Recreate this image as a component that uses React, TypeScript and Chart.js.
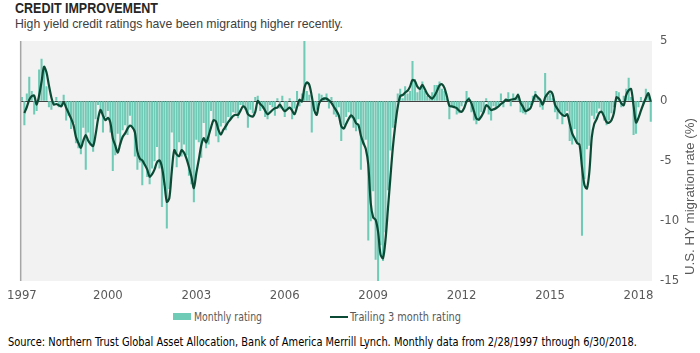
import React, { useEffect, useRef } from 'react';
import { Chart, registerables } from 'chart.js';

Chart.register(...registerables);

// ---- data ----
const START_YEAR = 1997;
const START_MONTH = 2; // Feb 1997
const TICK_YEARS = [1997, 2000, 2003, 2006, 2009, 2012, 2015, 2018];
const Y_MIN = -15;
const Y_MAX = 5;
const Y_STEP = 5;

const MONTHLY_RATING: number[] = [
  0.3, -2.0, 0.6, 2.0, 0.8, -1.1, -0.8, 2.6, 3.5, 2.6, 1.2,
  -0.5, -0.7, -0.3, 0.3, -0.5, -0.3, 0.5, -1.6, -1.2, -2.3, -1.8, -3.5,
  -3.9, -4.4, -2.2, -5.7, -2.6, -3.7, -4.2, -1.5, -0.3, -1.0, -2.6, -1.3,
  -0.8, -2.6, -5.8, -4.5, -2.7, -3.6, -2.4, -2.0, -2.8, -1.2, -2.2, -4.6,
  -5.7, -5.1, -7.0, -5.2, -6.3, -6.9, -5.6, -5.0, -3.8, -5.6, -8.8, -7.0,
  -10.6, -7.3, -2.6, -4.2, -5.5, -3.4, -4.6, -3.6, -4.5, -6.2, -6.9, -8.4,
  -3.2, -3.4, -4.7, -1.8, -3.9, -3.6, -0.8, -1.6, -2.9, -3.4, -2.1, -1.8,
  -2.4, -1.3, -1.5, -0.9, -1.0, -1.4, -0.3, -0.5, -0.7, -2.2, -0.7, -1.0,
  0.3, 0.4, -0.8, -0.6, -1.3, -1.5, -0.3, -0.5, -1.2, 0.2, -0.6, 0.4,
  -1.3, -0.6, 0.2, -1.5, -0.6, 0.8, -0.4, 0.6, 5.0, 0.8, 0.5, -2.6,
  -0.8, -0.7, 0.6, 0.5, 0.3, 0.6, -0.6, 0.3, -1.1, -1.3, -0.5, -3.3,
  -2.0, -1.3, -0.9, -1.4, -2.2, -2.5, -1.5, -5.7, -3.6, -3.2, -11.6, -10.0,
  -7.5, -13.2, -15.0, -12.0, -13.3, -10.9, -7.4, -4.1, -2.2, -1.8, 0.6, 1.0,
  0.2, 1.2, 0.6, 0.8, 3.3, 1.8, 0.7, 1.0, 1.6, 0.8, 0.4, 0.2,
  0.7, 1.3, 1.3, 1.6, 1.0, 0.8, 0.2, -1.5, -0.4, -0.6, -1.1, -1.0,
  -0.4, -0.1, 0.8, 0.3, -0.9, -1.6, -1.9, -1.6, -0.9, -1.0, 0.2, -1.1,
  -1.6, -0.4, -0.6, -0.3, 0.6, -0.5, 0.2, 0.7, -0.4, 0.6, 0.3, 0.6,
  -0.9, -1.0, -1.1, -0.8, -0.3, 0.4, 0.8, 0.2, -0.5, -0.7, 2.3, 0.4,
  0.6, 0.2, -0.9, -1.5, -0.8, -1.9, -1.1, -0.8, -3.3, -3.6, -2.3, -3.5,
  -3.6, -11.2, -6.5, -4.0, -3.7, -1.2, -1.5, -1.0, -0.6, -0.9, -1.6, -2.0,
  -1.6, -1.0, -0.5, 0.8, 0.7, -0.5, 0.4, 1.0, 1.9, 0.3, -2.8, -2.7,
  -0.5, 0.3, -0.2, 1.0, 0.6, -1.7,
];

const TRAILING_3M: (number | null)[] = [
  null, -1.0, -0.5, 0.1, 0.4, 0.45, -0.3, 0.45, 1.6, 2.85, 2.4,
  1.3, 0.3, -0.3, -0.25, -0.35, -0.45, -0.1, -0.55, -1.0, -1.45, -2.0, -3.0,
  -3.5, -3.9, -3.3, -2.85, -3.3, -3.6, -3.75, -2.8, -1.5, -0.75, -1.2, -1.6,
  -1.4, -1.8, -3.1, -3.7, -4.3, -3.6, -3.0, -2.7, -2.3, -2.05, -2.2, -2.6,
  -4.2, -4.8, -4.95, -5.3, -5.7, -6.3, -6.1, -5.7, -5.1, -4.95, -5.5, -6.85,
  -8.4, -8.1, -5.9, -4.1, -4.45, -4.6, -4.1, -4.3, -4.8, -5.5, -6.3, -7.25,
  -6.0, -4.9, -3.7, -3.1, -3.45, -2.9, -2.2, -1.6, -1.7, -2.4, -2.8, -2.4,
  -2.1, -1.75, -1.5, -1.25, -1.15, -1.15, -0.8, -0.45, -0.6, -1.1, -1.25, -1.3,
  -0.9, 0.0, -0.25, -0.45, -0.8, -1.1, -0.95, -0.75, -0.6, -0.55, -0.3, -0.6,
  -0.85, -0.7, -0.55, -0.8, -1.1, -0.5, 0.1, -0.05, 1.1, 1.55, 1.35, 0.4,
  -0.75, -1.15, -0.2, 0.1, 0.2, 0.2, 0.05, -0.15, -0.5, -0.8, -1.2, -2.1,
  -2.3, -1.9, -1.5, -1.2, -1.4, -1.85, -2.0, -2.9, -3.5, -4.0, -5.3, -8.5,
  -9.7, -9.9, -10.9, -12.8, -13.1, -11.6, -9.0, -6.4, -3.9, -2.0, -0.5, 0.4,
  0.5, 0.7, 0.85, 1.2, 1.75, 1.65, 1.2, 1.0, 1.35, 1.0, 0.6, 0.35,
  0.2, 0.45, 0.85, 1.3, 1.4, 1.1, 0.4, -0.4, -0.45, -0.5, -0.6, -0.8,
  -0.9, -0.6, -0.05, 0.15, -0.2, -0.85, -1.45, -1.55, -1.3, -0.9, -0.35, -0.5,
  -0.75, -0.7, -0.6, -0.45, -0.25, -0.1, 0.1, 0.05, 0.1, 0.15, 0.2, 0.5,
  -0.15, -0.5, -0.85, -0.75, -0.6, -0.05, 0.5, 0.3, 0.1, -0.3, 0.3, 0.6,
  0.8, 0.6, -0.3, -0.65, -0.95, -1.15, -1.25, -1.1, -1.9, -2.7, -3.1, -3.5,
  -3.65, -5.5, -7.0, -7.3, -5.9, -3.0, -1.9, -1.5, -1.0, -0.9, -1.3, -1.75,
  -1.8, -1.6, -1.0, 0.3, 0.2, -0.2, -0.35, 0.5, 0.9, 1.0, -0.4, -1.8,
  -1.4, -0.8, -0.25, 0.25, 0.65, -0.05,
];

const MONTH_LABELS: string[] = MONTHLY_RATING.map((_, i) => {
  const m = START_MONTH - 1 + i;
  const y = START_YEAR + Math.floor(m / 12);
  const mm = (m % 12) + 1;
  return `${y}-${String(mm).padStart(2, '0')}`;
});

// ---- styles ----
const BAR_COLOR = '#6fcbb6';
const LINE_COLOR = '#0b4a35';
const PLOT_BG = '#f2f2f2';
const TEXT_GRAY = '#595959';
const NARROW = "'Liberation Sans Narrow', 'Arial Narrow', 'DejaVu Sans Condensed', 'Liberation Sans', sans-serif";
const SANS = "'Liberation Sans', Arial, sans-serif";

function measure(text: string, font: string): number {
  const c = document.createElement('canvas').getContext('2d');
  if (!c) return 1;
  c.font = font;
  return c.measureText(text).width || 1;
}

function FitText(props: {
  text: string; x: number; baseline: number; width: number; size: number;
  weight?: number; family: string; color: string;
}) {
  const { text, x, baseline, width, size, weight = 400, family, color } = props;
  const font = `${weight} ${size}px ${family}`;
  const s = width / measure(text, font);
  return (
    <div
      style={{
        position: 'absolute',
        left: x,
        top: baseline - 0.8465 * size,
        fontFamily: family,
        fontSize: size,
        fontWeight: weight,
        lineHeight: `${size}px`,
        color,
        whiteSpace: 'nowrap',
        transform: `scaleX(${s})`,
        transformOrigin: '0 0',
      }}
    >
      {text}
    </div>
  );
}

const plotDecor = {
  id: 'plotDecor',
  beforeDraw(chart: any) {
    const { ctx, chartArea } = chart;
    ctx.save();
    ctx.fillStyle = PLOT_BG;
    ctx.fillRect(chartArea.left, chartArea.top, chartArea.right - chartArea.left, chartArea.bottom - chartArea.top);
    ctx.restore();
  },
  afterDraw(chart: any) {
    const { ctx, chartArea } = chart;
    ctx.save();
    ctx.strokeStyle = '#a6a6a6';
    ctx.lineWidth = 1.5;
    ctx.beginPath();
    ctx.moveTo(chartArea.left, chartArea.top);
    ctx.lineTo(chartArea.left, chartArea.bottom);
    ctx.stroke();
    // y-axis title
    const title = 'U.S. HY migration rate (%)';
    const font = `13px ${SANS}`;
    ctx.font = font;
    const w = ctx.measureText(title).width;
    ctx.translate(690, 196.5);
    ctx.rotate(-Math.PI / 2);
    ctx.scale(157 / w, 1);
    ctx.fillStyle = TEXT_GRAY;
    ctx.textAlign = 'center';
    ctx.textBaseline = 'middle';
    ctx.fillText(title, 0, 0);
    ctx.restore();
  },
};

export default function App() {
  const ref = useRef<HTMLCanvasElement>(null);

  useEffect(() => {
    if (!ref.current) return;
    const chart = new Chart(ref.current, {
      type: 'bar',
      data: {
        labels: MONTH_LABELS,
        datasets: [
          {
            type: 'line',
            label: 'Trailing 3 month rating',
            data: TRAILING_3M,
            borderColor: LINE_COLOR,
            borderWidth: 2.2,
            pointRadius: 0,
            tension: 0.3,
            fill: false,
            order: 0,
          } as any,
          {
            type: 'bar',
            label: 'Monthly rating',
            data: MONTHLY_RATING,
            backgroundColor: BAR_COLOR,
            barThickness: 1.4,
            order: 1,
          },
        ],
      },
      options: {
        animation: false,
        responsive: false,
        maintainAspectRatio: false,
        layout: { padding: { left: 12, top: 41, right: 0, bottom: 0 } },
        plugins: { legend: { display: false }, tooltip: { enabled: false } },
        scales: {
          x: {
            type: 'category',
            offset: true,
            grid: { display: false, drawTicks: false },
            border: { display: false },
            ticks: {
              autoSkip: false,
              maxRotation: 0,
              minRotation: 0,
              padding: 7,
              color: TEXT_GRAY,
              font: { family: NARROW, size: 13 },
              callback: (_v: any, idx: number) => {
                const [y, m] = MONTH_LABELS[idx].split('-');
                if (idx === 0 || (m === '01' && TICK_YEARS.includes(Number(y)))) return y;
                return '';
              },
            },
            afterFit: (s: any) => { s.height = 24; },
          },
          y: {
            position: 'right',
            min: Y_MIN,
            max: Y_MAX,
            ticks: {
              stepSize: Y_STEP,
              padding: 8,
              color: TEXT_GRAY,
              font: { family: NARROW, size: 13 },
            },
            grid: {
              drawTicks: false,
              lineWidth: 1,
              color: (c: any) => (c.tick && c.tick.value === 0 ? '#404040' : 'rgba(0,0,0,0)'),
            },
            border: { display: false },
            afterFit: (s: any) => { s.width = 48; },
          },
        },
      },
      plugins: [plotDecor],
    });
    return () => chart.destroy();
  }, []);

  return (
    <div style={{ position: 'fixed', left: 0, top: 0, width: 700, height: 353, background: '#fff', overflow: 'hidden' }}>
      <FitText text="CREDIT IMPROVEMENT" x={15} baseline={13.3} width={143} size={14} weight={700} family={SANS} color="#262626" />
      <FitText text="High yield credit ratings have been migrating higher recently." x={15} baseline={28.7} width={328} size={13.5} family={SANS} color="#404040" />
      <canvas ref={ref} width={700} height={305} style={{ position: 'absolute', left: 0, top: 0, width: 700, height: 305 }} />
      <div style={{ position: 'absolute', left: 173, top: 313, width: 18, height: 7, background: BAR_COLOR }} />
      <FitText text="Monthly rating" x={194} baseline={321} width={68} size={13} family={NARROW} color={TEXT_GRAY} />
      <div style={{ position: 'absolute', left: 330, top: 315.5, width: 18, height: 2, background: LINE_COLOR }} />
      <FitText text="Trailing 3 month rating" x={350} baseline={321} width={111} size={13} family={NARROW} color={TEXT_GRAY} />
      <FitText text="Source: Northern Trust Global Asset Allocation, Bank of America Merrill Lynch. Monthly data from 2/28/1997  through 6/30/2018." x={8} baseline={346} width={632} size={13} family={NARROW} color="#000" />
    </div>
  );
}
